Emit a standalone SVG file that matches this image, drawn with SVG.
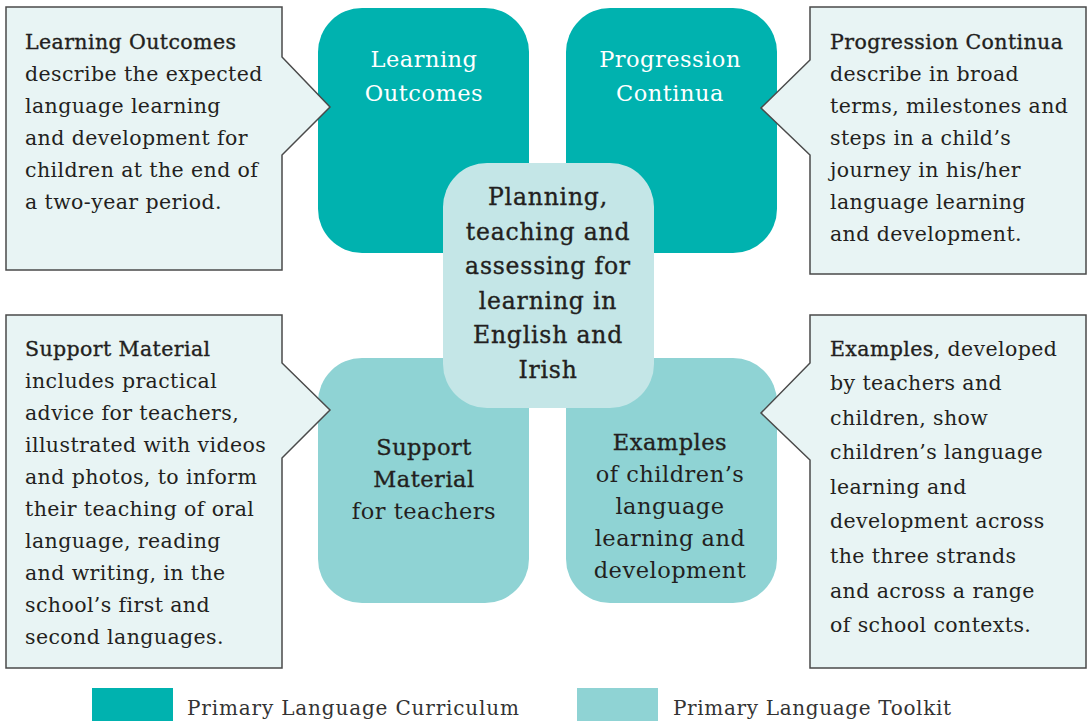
<svg xmlns="http://www.w3.org/2000/svg" width="1089" height="721" viewBox="0 0 1089 721">
<style>
.dk{fill:#00b2af}
.lt{fill:#8fd3d4}
.ctr{fill:#c4e6e7}
.co{fill:#e8f4f4;stroke:#4a4a4a;stroke-width:1.5}
text{font-family:"DejaVu Serif","Liberation Serif",serif;fill:#231f20}
.t{font-size:20.5px;letter-spacing:0.4px}
.h{stroke:#231f20;stroke-width:0.35}
.w{fill:#ffffff;font-size:22.5px;letter-spacing:0.5px;text-anchor:middle}
.c{font-size:22.5px;letter-spacing:0.5px;text-anchor:middle}
.m{font-size:23.5px;letter-spacing:0.8px;text-anchor:middle}
.lg{font-size:20px;fill:#333333}
</style>
<rect width="1089" height="721" fill="#ffffff"/>
<g id="learning-outcomes">
<rect class="dk" x="318" y="8" width="211" height="245" rx="44"/>
<text class="w" x="424" y="67">Learning</text>
<text class="w" x="424" y="101">Outcomes</text>
</g>
<g id="progression-continua">
<rect class="dk" x="566" y="8" width="211" height="245" rx="44"/>
<text class="w" x="670" y="67">Progression</text>
<text class="w" x="670" y="101">Continua</text>
</g>
<g id="support-material">
<rect class="lt" x="318" y="358" width="211" height="245" rx="44"/>
<text class="c h" x="424" y="455">Support</text>
<text class="c h" x="424" y="487">Material</text>
<text class="c" x="424" y="519">for teachers</text>
</g>
<g id="examples">
<rect class="lt" x="566" y="358" width="211" height="245" rx="44"/>
<text class="c h" x="670" y="450">Examples</text>
<text class="c" x="670" y="482">of children’s</text>
<text class="c" x="670" y="514">language</text>
<text class="c" x="670" y="546">learning and</text>
<text class="c" x="670" y="578">development</text>
</g>
<g id="center">
<rect class="ctr" x="443" y="163" width="211" height="245" rx="44"/>
<text class="m h" x="548" y="205">Planning,</text>
<text class="m h" x="548" y="240">teaching and</text>
<text class="m h" x="548" y="274">assessing for</text>
<text class="m h" x="548" y="309">learning in</text>
<text class="m h" x="548" y="343">English and</text>
<text class="m h" x="548" y="378">Irish</text>
</g>
<g id="connectors">
<g id="callout-lo">
<path class="co" d="M6,7 H282 V57 L330,107 L282,155 V270 H6 Z"/>
<text class="t h" x="25" y="49">Learning Outcomes</text>
<text class="t" x="25" y="81">describe the expected</text>
<text class="t" x="25" y="113">language learning</text>
<text class="t" x="25" y="145">and development for</text>
<text class="t" x="25" y="177">children at the end of</text>
<text class="t" x="25" y="209">a two-year period.</text>
</g>
<g id="callout-pc">
<path class="co" d="M810,7 H1086 V274 H810 V155 L761,108 L810,60 Z"/>
<text class="t h" x="830" y="49">Progression Continua</text>
<text class="t" x="830" y="81">describe in broad</text>
<text class="t" x="830" y="113">terms, milestones and</text>
<text class="t" x="830" y="145">steps in a child’s</text>
<text class="t" x="830" y="177">journey in his/her</text>
<text class="t" x="830" y="209">language learning</text>
<text class="t" x="830" y="241">and development.</text>
</g>
<g id="callout-sm">
<path class="co" d="M6,315 H282 V363 L330,410 L282,458 V668 H6 Z"/>
<text class="t h" x="25" y="356">Support Material</text>
<text class="t" x="25" y="388">includes practical</text>
<text class="t" x="25" y="420">advice for teachers,</text>
<text class="t" x="25" y="452">illustrated with videos</text>
<text class="t" x="25" y="484">and photos, to inform</text>
<text class="t" x="25" y="516">their teaching of oral</text>
<text class="t" x="25" y="548">language, reading</text>
<text class="t" x="25" y="580">and writing, in the</text>
<text class="t" x="25" y="612">school’s first and</text>
<text class="t" x="25" y="644">second languages.</text>
</g>
<g id="callout-ex">
<path class="co" d="M810,315 H1086 V668 H810 V460 L761,413 L810,363 Z"/>
<text class="t" x="830" y="356"><tspan class="h">Examples</tspan>, developed</text>
<text class="t" x="830" y="390">by teachers and</text>
<text class="t" x="830" y="425">children, show</text>
<text class="t" x="830" y="459">children’s language</text>
<text class="t" x="830" y="494">learning and</text>
<text class="t" x="830" y="528">development across</text>
<text class="t" x="830" y="563">the three strands</text>
<text class="t" x="830" y="598">and across a range</text>
<text class="t" x="830" y="632">of school contexts.</text>
</g>
</g>
<g id="legend">
<rect class="dk" x="92" y="688" width="81" height="33"/>
<text class="lg" x="187" y="715" textLength="332" lengthAdjust="spacing">Primary Language Curriculum</text>
<rect class="lt" x="577" y="688" width="81" height="33"/>
<text class="lg" x="673" y="715" textLength="278" lengthAdjust="spacing">Primary Language Toolkit</text>
</g>
</svg>
